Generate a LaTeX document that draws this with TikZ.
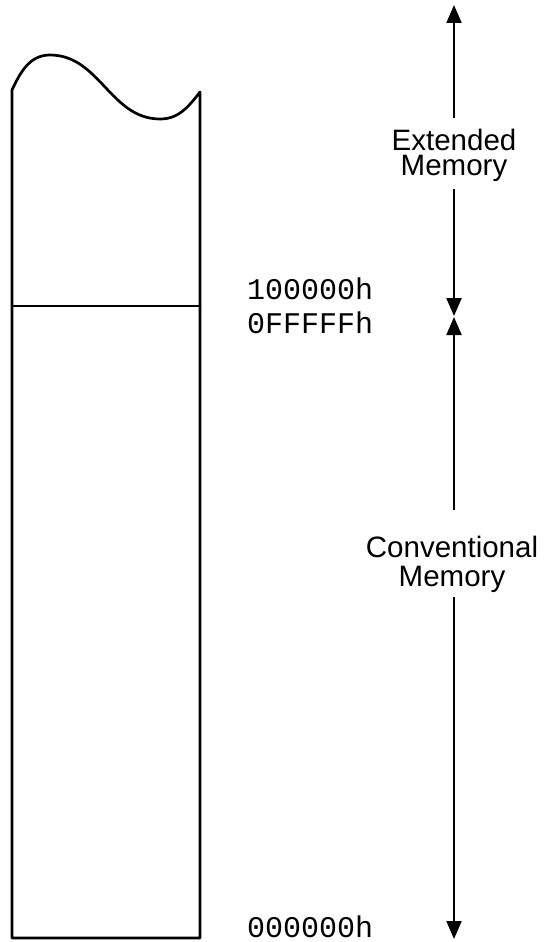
\documentclass[tikz,border=0pt]{standalone}
\usepackage{fontspec}
\setmainfont{Liberation Sans}
\newfontfamily\monof{Liberation Mono}
\usetikzlibrary{arrows.meta}
\tikzset{
  wall/.style={line width=2.7pt, line cap=round, line join=round},
  arr/.style={line width=2.2pt, -{Triangle[length=18pt,width=15pt]}},
  addr/.style={anchor=base west, inner sep=0pt, font=\monof\fontsize{30}{30}\selectfont},
  region/.style={inner sep=0pt, align=center}
}
\begin{document}
\begin{tikzpicture}[x=1pt,y=-1pt]
\useasboundingbox (0,0) rectangle (544,942);
% memory column
\draw[wall] (12,90) to[out=65,in=180] (50,55) to[out=0,in=180] (160,119) to[out=0,in=232] (200,92) -- (200,938) -- (12,938) -- cycle;
\draw[wall] (12,306) -- (200,306);
% addresses
\node[addr] (a1) at (247,299) {100000h};
\node[addr] (a2) at (247,333) {0FFFFFh};
\node[addr] (a0) at (247,937) {000000h};
% region labels
\node[region, font=\fontsize{29.5}{25}\selectfont, anchor=north] (ext) at (454,129) {Extended\\Memory};
\node[region, font=\fontsize{29.5}{28.7}\selectfont, anchor=north] (conv) at (452,536) {Conventional\\Memory};
% arrow coordinates
\coordinate (top) at (454,5);
\coordinate (e1) at (454,118);
\coordinate (e2) at (454,189);
\coordinate (mid1) at (454,317);
\coordinate (mid2) at (454,316);
\coordinate (c1) at (454,510);
\coordinate (c2) at (454,597);
\coordinate (bot) at (454,939);
\draw[arr] (e1) -- (top);
\draw[arr] (e2) -- (mid2);
\draw[arr] (c1) -- (mid1);
\draw[arr] (c2) -- (bot);
\end{tikzpicture}
\end{document}
